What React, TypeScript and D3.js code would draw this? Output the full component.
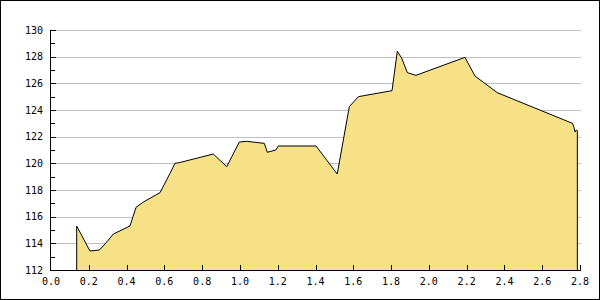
import React from "react";
import * as d3 from "d3";

const xValues = [0.136, 0.206, 0.256, 0.286, 0.33, 0.418, 0.45, 0.489, 0.577, 0.63, 0.656, 0.679, 0.859, 0.93, 0.997, 1.036, 1.129, 1.145, 1.19, 1.203, 1.403, 1.515, 1.579, 1.627, 1.805, 1.833, 1.856, 1.886, 1.932, 2.191, 2.244, 2.362, 2.76, 2.768, 2.774, 2.78, 2.786];
const yValues = [115.3, 113.43, 113.5, 113.95, 114.7, 115.3, 116.7, 117.1, 117.8, 119.25, 120.0, 120.05, 120.7, 119.75, 121.6, 121.65, 121.5, 120.83, 121.0, 121.3, 121.3, 119.2, 124.25, 125.0, 125.45, 128.4, 127.9, 126.8, 126.6, 127.95, 126.55, 125.3, 123.0, 122.7, 122.35, 122.5, 122.45];
const xTicks = [0, 0.2, 0.4, 0.6, 0.8, 1.0, 1.2, 1.4, 1.6, 1.8, 2.0, 2.2, 2.4, 2.6, 2.8];
const yTicks = [112, 114, 116, 118, 120, 122, 124, 126, 128, 130];
const yMinorTicks = [113, 115, 117, 119, 121, 123, 125, 127, 129];

const W = 600, H = 300;
const left = 51, right = 580, top = 30, bottom = 270;

export default function App() {
  const x = d3.scaleLinear().domain([0, 2.8]).range([left, right]);
  const y = d3.scaleLinear().domain([112, 130]).range([bottom, top]);
  const data = xValues.map((v, i) => [v, yValues[i]] as [number, number]);
  const area = d3.area<[number, number]>().x(d => x(d[0])).y0(y(112)).y1(d => y(d[1]));
  const line = d3.line<[number, number]>().x(d => x(d[0])).y(d => y(d[1]));
  const first = data[0], last = data[data.length - 1];
  const outline = [[first[0], 112] as [number, number], ...data, [last[0], 112] as [number, number]];
  const font = "'DejaVu Sans Mono', monospace";
  return (
    <svg width={W} height={H} style={{ position: "absolute", left: 0, top: 0 }} xmlns="http://www.w3.org/2000/svg">
      <rect x={0.5} y={0.5} width={W - 1} height={H - 1} fill="#ffffff" stroke="#000" strokeWidth={1} />
      {yTicks.filter(v => v > 112).map(v => (
        <line key={"g" + v} x1={left} x2={right + 1} y1={Math.round(y(v)) + 0.5} y2={Math.round(y(v)) + 0.5} stroke="#c0c0c0" strokeWidth={1} />
      ))}
      <path d={area(data) || ""} fill="#f6e186" stroke="none" />
      <path d={line(outline) || ""} fill="none" stroke="#000" strokeWidth={1} />
      <line x1={left - 0.5} x2={left - 0.5} y1={top} y2={bottom + 1} stroke="#000" />
      <line x1={left - 1} x2={right + 1} y1={bottom + 0.5} y2={bottom + 0.5} stroke="#000" />
      {yTicks.map(v => (
        <g key={"yt" + v}>
          <line x1={left} x2={left + 5} y1={Math.round(y(v)) + 0.5} y2={Math.round(y(v)) + 0.5} stroke="#000" />
          <text x={43} y={y(v)} dy="0.35em" textAnchor="end" fontFamily={font} fontSize={10} fill="#000">{v}</text>
        </g>
      ))}
      {yMinorTicks.map(v => (
        <line key={"ym" + v} x1={left} x2={left + 4} y1={Math.round(y(v)) + 0.5} y2={Math.round(y(v)) + 0.5} stroke="#000" />
      ))}
      {xTicks.map(v => (
        <g key={"xt" + v}>
          {v > 0 && <line x1={Math.round(x(v)) + 0.5} x2={Math.round(x(v)) + 0.5} y1={bottom - 5} y2={bottom} stroke="#000" />}
          <text x={x(v)} y={281} dy="0.35em" textAnchor="middle" fontFamily={font} fontSize={10} fill="#000">{v.toFixed(1)}</text>
        </g>
      ))}
    </svg>
  );
}
